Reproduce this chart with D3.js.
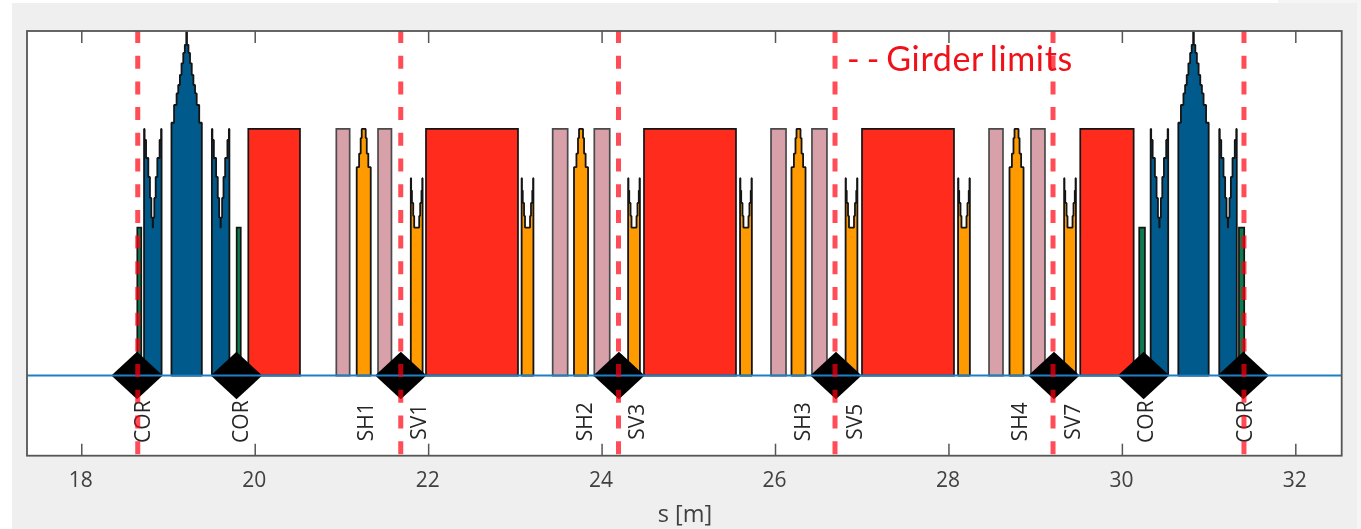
<!DOCTYPE html>
<html>
<head>
<meta charset="utf-8">
<style>
html,body{margin:0;padding:0;background:#fff;overflow:hidden}
svg{display:block;filter:blur(0.5px)}
text{font-family:"Open Sans","Noto Sans",sans-serif}
</style>
<script src="https://cdn.jsdelivr.net/npm/d3@7"></script>
</head>
<body>
<svg id="c" width="1361" height="529"></svg>
<script>
const xTicks = [18,20,22,24,26,28,30,32];
const xDomain = [17.374,32.535];
const yDomain = [-0.325,1.397];

const dipoles = [[19.926,20.522],[21.975,23.036],[24.489,25.550],[27.003,28.064],[29.520,30.136]];
const correctorsPink = [[20.941,21.095],[21.422,21.577],[23.436,23.609],[23.916,24.094],[25.954,26.127],[26.426,26.599],[28.468,28.629],[28.952,29.113]];
const greenCorrectors = [[18.646,18.692],[19.792,19.839],[30.200,30.266],[31.350,31.411]];
const greenHeight = 0.6;

const qfCenters = [19.215,30.826];
const qfHalfWidths = [0.175,0.145,0.116,0.097,0.078,0.059,0.039,0.021,0.004];
const qfHeights = [1.025,1.097,1.144,1.178,1.219,1.266,1.308,1.341,1.393];

const qdCenters = [18.825,19.607,30.433,31.224];
const qdHalfWidth = 0.101;
const qdNotchWidths = [0.095,0.078,0.052,0.033,0.017,0.002];
const qdNotchHeights = [1.0,0.955,0.882,0.805,0.72,0.64,0.60];

const shCenters = [21.257,23.763,26.271,28.785];
const shHalfWidths = [0.081,0.053,0.035,0.023];
const shHeights = [0.845,0.90,0.963,1.0];

const svCenters = [21.868,23.146,24.374,25.665,26.882,28.179,29.402];
const svHalfWidth = 0.068;
const svNotchWidths = [0.064,0.055,0.040,0.029];
const svNotchHeights = [0.80,0.75,0.70,0.647,0.60];

const bpms = [18.643,19.79,21.685,24.2,26.703,29.217,30.251,31.40];
const bpmHalfWidth = 0.296, bpmHalfHeight = 0.096;

const girders = [18.651,21.684,24.195,26.692,29.206,31.408];

const labelNames = ["COR","COR","SH1","SV1","SH2","SV3","SH3","SV5","SH4","SV7","COR","COR"];
const labelPositions = [18.70,19.83,21.272,21.883,23.797,24.397,26.311,26.911,28.813,29.424,30.266,31.408];
const labelLevel = -0.187;

const svg = d3.select("#c");
const L=27,R=1341.7,T=31,B=455.7;
const x = d3.scaleLinear().domain(xDomain).range([L,R]);
const y = d3.scaleLinear().domain(yDomain).range([B,T]);

// window background
svg.append("rect").attr("x",12).attr("y",3).attr("width",1345).attr("height",526).attr("fill","#efefef");
svg.append("rect").attr("x",1278).attr("y",0).attr("width",83).attr("height",3).attr("fill","#f4f5f4");
svg.append("rect").attr("x",1357).attr("y",0).attr("width",4).attr("height",529).attr("fill","#f4f5f4");
svg.append("rect").attr("x",L).attr("y",T).attr("width",R-L).attr("height",B-T).attr("fill","#fff");

const plot = svg.append("g");
const line = d3.line().curve(d3.curveLinear).x(d=>x(d[0])).y(d=>y(d[1]));
const edge = "#141414";
function shape(points, fill){
  plot.append("path").attr("d",line(points)+"Z").attr("fill",fill)
    .attr("stroke",edge).attr("stroke-width",1.8).attr("stroke-linejoin","bevel");
}
function box(pair, h, fill, stroke){
  plot.append("path").attr("d",line([[pair[0],0],[pair[0],h],[pair[1],h],[pair[1],0]])+"Z")
    .attr("fill",fill).attr("stroke",stroke||edge).attr("stroke-width",1.7);
}
function peak(c, hw, hs, fill){
  const left=[[c-hw[0],0]];
  hw.forEach((w,i)=>{
    if(i) left.push([c-w,hs[i-1]]);
    left.push([c-w,hs[i]]);
  });
  const right=left.slice().reverse().map(p=>[2*c-p[0],p[1]]);
  shape(left.concat(right),fill);
}
function notch(c, outer, ws, hs, fill){
  const left=[[c-outer,0],[c-outer,hs[0]]];
  ws.forEach((w,i)=>{left.push([c-w,hs[i]]);left.push([c-w,hs[i+1]]);});
  const right=left.slice().reverse().map(p=>[2*c-p[0],p[1]]);
  shape(left.concat(right),fill);
}

greenCorrectors.forEach(p=>box(p,greenHeight,"#0e7a50"));
correctorsPink.forEach(p=>box(p,1,"#d8a0a8","#4a4a4a"));
dipoles.forEach(p=>box(p,1,"#ff2b1c"));
qfCenters.forEach(c=>peak(c,qfHalfWidths,qfHeights,"#005b8c"));
qdCenters.forEach(c=>notch(c,qdHalfWidth,qdNotchWidths,qdNotchHeights,"#005b8c"));
shCenters.forEach(c=>peak(c,shHalfWidths,shHeights,"#ff9a00"));
svCenters.forEach(c=>notch(c,svHalfWidth,svNotchWidths,svNotchHeights,"#ff9a00"));

bpms.forEach(c=>{
  plot.append("path").attr("d",line([[c-bpmHalfWidth,0],[c,bpmHalfHeight],[c+bpmHalfWidth,0],[c,-bpmHalfHeight]])+"Z").attr("fill","#000");
});

plot.append("line").attr("x1",L).attr("x2",R).attr("y1",y(0)).attr("y2",y(0))
  .attr("stroke","#1f7fc4").attr("stroke-width",2);

labelNames.forEach((t,i)=>{
  const px=x(labelPositions[i]), py=y(labelLevel);
  plot.append("text").text(t).attr("transform",`translate(${px},${py}) rotate(-90)`)
    .attr("text-anchor","middle").attr("dominant-baseline","central")
    .attr("font-size",21).attr("fill","#262626");
});

girders.forEach(g=>{
  plot.append("line").attr("x1",x(g)).attr("x2",x(g)).attr("y1",T).attr("y2",B)
    .attr("stroke","#ff0010").attr("stroke-opacity",0.7).attr("stroke-width",5)
    .attr("stroke-dasharray","13 12.7").attr("stroke-dashoffset",1);
});

// axes
const axisColor="#555";
const bottom=d3.axisBottom(x).tickValues(xTicks).tickSize(-12).tickPadding(0).tickFormat(d3.format("d"));
const top_=d3.axisTop(x).tickValues(xTicks).tickSize(-12).tickFormat("");
const gb=svg.append("g").attr("transform",`translate(0,${B})`).call(bottom);
const gt=svg.append("g").attr("transform",`translate(0,${T})`).call(top_);
[gb,gt].forEach(g=>{
  g.select(".domain").remove();
  g.selectAll(".tick line").attr("stroke",axisColor).attr("stroke-width",1.5);
});
gb.selectAll(".tick text").attr("fill","#404040").attr("font-size",21).attr("font-family",null)
  .attr("y",0).attr("dy",null).attr("transform","translate(-1,31)").attr("dominant-baseline","auto");
svg.append("rect").attr("x",L).attr("y",T).attr("width",R-L).attr("height",B-T)
  .attr("fill","none").attr("stroke",axisColor).attr("stroke-width",1.8);

svg.append("text").text("s [m]").attr("x",685).attr("y",522).attr("text-anchor","middle")
  .attr("font-size",23.5).attr("fill","#404040");
svg.append("text").text("- - Girder limits").attr("x",847).attr("y",70.5)
  .style("font-family","Lato,'Open Sans',sans-serif").style("letter-spacing","0.65px").style("word-spacing","-3px").attr("font-size",34).attr("fill","#f01018");
</script>
</body>
</html>
